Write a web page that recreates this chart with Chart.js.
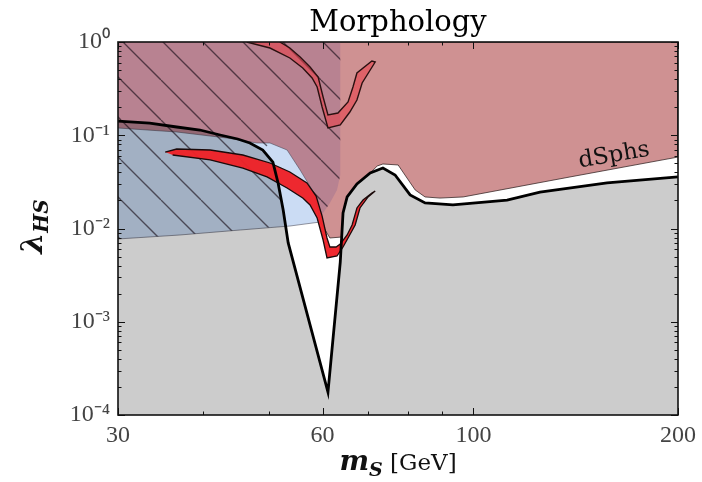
<!DOCTYPE html>
<html>
<head>
<meta charset="utf-8">
<title>Morphology</title>
<script src="https://cdn.jsdelivr.net/npm/chart.js@4.4.0/dist/chart.umd.min.js"></script>
<style>
  html, body { margin: 0; padding: 0; background: #fff; }
  canvas { display: block; }
</style>
</head>
<body>
<canvas id="chart" width="702" height="482"></canvas>
<script>
// ticks
const xTickValues = [30, 60, 100, 200];
const xMinorValues = [40, 50, 70, 80, 90];
const yTickValues = [1e-4, 1e-3, 1e-2, 1e-1, 1];
const yTickLabels = ['10⁻⁴', '10⁻³', '10⁻²', '10⁻¹', '10⁰'];

// black boundary curve (m_S in GeV, lambda_HS)
const boundM = [30, 33.4, 36.6, 39.6, 42.4, 45.0, 46.9, 49.0, 50.7, 51.6, 52.5, 53.4, 61.1, 63.7, 64.3, 65.2, 67.4, 70.5, 73.6, 76.7, 80.7, 84.9, 93.3, 112.1, 125.3, 157.3, 200];
const boundL = [0.142, 0.135, 0.1226, 0.1138, 0.1006, 0.0912, 0.0826, 0.0695, 0.0516, 0.0308, 0.0158, 0.0070, 0.000176, 0.00437, 0.0147, 0.0218, 0.0300, 0.0394, 0.0445, 0.0375, 0.0229, 0.0188, 0.0179, 0.0202, 0.0246, 0.0308, 0.0357];

// dSphs excluded region (closed outline)
const dsphM = [30, 200, 200, 138.7, 96.6, 89.3, 84.9, 82.1, 79.3, 77.5, 73.6, 72.2, 70.5, 67.4, 65.2, 64.3, 64.1, 61.5, 59.9, 59.5, 59.1, 58.5, 55.6, 53.2, 50.2, 48.0, 43.4, 36.6, 30];
const dsphL = [1, 1, 0.0584, 0.0357, 0.0218, 0.0212, 0.0218, 0.0259, 0.0375, 0.0480, 0.0492, 0.0468, 0.0394, 0.0300, 0.0218, 0.0147, 0.00811, 0.00791, 0.0109, 0.01174, 0.0147, 0.0229, 0.0424, 0.0695, 0.0826, 0.0826, 0.0934, 0.1084, 0.1196];
const dsphLabelAt = [161.6, 0.0523];

// hatched region below m_h/2 (tinted part and line pattern part)
const shadeM = [30, 63.7, 63.7, 63.0, 61.5, 60.1, 59.5, 55.6, 30];
const shadeL = [1, 1, 0.0375, 0.0259, 0.0188, 0.0147, 0.01174, 0.0140, 0.0140];
const hatchM = [30, 63.7, 63.7, 63.0, 61.5, 60.1, 59.5, 59.1, 58.5, 55.6, 53.2, 50.2, 49.0, 50.7, 51.6, 52.5, 52.9, 45.4, 37.0, 30];
const hatchL = [1, 1, 0.0375, 0.0259, 0.0188, 0.0147, 0.01174, 0.0147, 0.0229, 0.0424, 0.0695, 0.0826, 0.0695, 0.0516, 0.0308, 0.0158, 0.01063, 0.00964, 0.00852, 0.00772];

// blue region
const blueM = [30, 36.6, 43.4, 48.0, 50.2, 53.2, 55.6, 58.5, 59.1, 59.5, 53.7, 45.4, 37.0, 30];
const blueL = [0.1196, 0.1084, 0.0934, 0.0826, 0.0826, 0.0695, 0.0424, 0.0229, 0.0147, 0.01174, 0.01063, 0.00964, 0.00852, 0.00772];

// red contours
const redUpM = [46.4, 50.2, 53.7, 56.1, 57.9, 58.9, 59.9, 61.1, 63.7, 65.8, 67.4, 68.6, 70.5, 71.7, 70.9, 67.4, 66.5, 65.4, 63.2, 61.1, 60.1, 59.1, 57.5, 55.6, 53.7, 51.9];
const redUpL = [1, 0.862, 0.6737, 0.5262, 0.4111, 0.3292, 0.2009, 0.1196, 0.1288, 0.1776, 0.2388, 0.3634, 0.5009, 0.6102, 0.6254, 0.4652, 0.3292, 0.2273, 0.1732, 0.1649, 0.2571, 0.4213, 0.5394, 0.6905, 0.862, 1];
const redLowM = [35.2, 36.6, 41.0, 45.8, 50.2, 53.7, 56.9, 58.7, 59.9, 60.9, 61.5, 62.8, 63.7, 65.2, 66.3, 67.4, 68.8, 70.9, 71.7, 70.0, 68.1, 67.0, 65.4, 64.3, 63.0, 60.9, 60.1, 58.9, 57.5, 56.1, 53.2, 49.7, 45.8, 41.0, 36.1];
const redLowL = [0.0661, 0.0712, 0.0695, 0.0614, 0.0504, 0.0404, 0.0308, 0.0223, 0.0136, 0.00791, 0.00633, 0.00633, 0.00682, 0.00852, 0.0109, 0.0166, 0.0202, 0.0240, 0.0252, 0.0218, 0.0166, 0.0109, 0.00791, 0.00633, 0.00507, 0.00483, 0.00753, 0.01296, 0.0179, 0.0212, 0.0272, 0.0357, 0.0445, 0.0543, 0.0614];

const SERIF = "'DejaVu Serif', serif";
const TICKFONT = "'Liberation Serif', serif";

const pts = (xs, ys) => xs.map((x, i) => ({x: x, y: ys[i]}));

// diagonal hatch, anchored to the canvas origin so both hatch layers line up
function hatchPattern() {
  const c = document.createElement('canvas');
  c.width = 40; c.height = 40;
  const g = c.getContext('2d');
  g.strokeStyle = 'rgba(20,10,20,0.62)';
  g.lineWidth = 1.3;
  for (const k of [-40, 0, 40]) {
    g.beginPath();
    g.moveTo(1 + k, 0);
    g.lineTo(41 + k, 40);
    g.stroke();
  }
  return g.createPattern(c, 'repeat');
}

function region(data, fill, border, width, order) {
  return {
    data: data, showLine: true, fill: 'shape', backgroundColor: fill,
    borderColor: border, borderWidth: width, pointRadius: 0, tension: 0,
    order: order, clip: 0
  };
}

function drawRuns(ctx, runs, cx, base) {
  let w = 0;
  for (const r of runs) { ctx.font = r[1]; w += ctx.measureText(r[0]).width; }
  let x = cx - w / 2;
  ctx.textAlign = 'left';
  ctx.textBaseline = 'alphabetic';
  for (const r of runs) {
    ctx.font = r[1];
    ctx.fillText(r[0], x, base + r[2]);
    x += ctx.measureText(r[0]).width;
  }
}

const decorations = {
  id: 'decorations',
  afterDatasetsDraw(chart) {
    const {ctx, chartArea: a, scales: {x, y}} = chart;

    // dSphs label
    ctx.save();
    ctx.translate(x.getPixelForValue(dsphLabelAt[0]), y.getPixelForValue(dsphLabelAt[1]));
    ctx.rotate(-9.7 * Math.PI / 180);
    ctx.font = '23px ' + SERIF;
    ctx.fillStyle = '#111';
    ctx.textAlign = 'center';
    ctx.fillText('dSphs', 0, 0);
    ctx.restore();

    // inward ticks on all four sides
    ctx.save();
    ctx.strokeStyle = '#111';
    ctx.lineWidth = 1;
    ctx.beginPath();
    for (const t of x.ticks) {
      const px = Math.round(x.getPixelForValue(t.value)) + 0.5;
      const len = t.major ? 7 : 3.5;
      ctx.moveTo(px, a.bottom); ctx.lineTo(px, a.bottom - len);
      ctx.moveTo(px, a.top); ctx.lineTo(px, a.top + len);
    }
    for (const t of y.ticks) {
      const py = Math.round(y.getPixelForValue(t.value)) + 0.5;
      const len = t.major ? 7 : 3.5;
      ctx.moveTo(a.left, py); ctx.lineTo(a.left + len, py);
      ctx.moveTo(a.right, py); ctx.lineTo(a.right - len, py);
    }
    ctx.stroke();
    ctx.lineWidth = 1.6;
    ctx.strokeRect(a.left, a.top, a.right - a.left, a.bottom - a.top);

    // axis titles
    ctx.fillStyle = '#111';
    drawRuns(ctx, [
      ['m', 'italic bold 28px ' + SERIF, 0],
      ['S', 'italic bold 19px ' + SERIF, 6],
      [' [GeV]', '23px ' + SERIF, 0]
    ], (a.left + a.right) / 2, a.bottom + 55);

    ctx.translate(a.left - 76, (a.top + a.bottom) / 2 - 2);
    ctx.rotate(-Math.PI / 2);
    drawRuns(ctx, [
      ['λ', 'italic bold 30px ' + SERIF, 0],
      ['HS', 'italic bold 20px ' + SERIF, 6]
    ], 0, 0);
    ctx.restore();
  }
};

new Chart(document.getElementById('chart'), {
  type: 'scatter',
  data: {
    datasets: [
      // boundary line on top
      {data: pts(boundM, boundL), showLine: true, fill: false, borderColor: '#000', borderWidth: 2.8, pointRadius: 0, tension: 0, order: 0, clip: 0},
      region(pts(redLowM, redLowL), 'rgba(238,34,40,0.97)', '#1a0a0a', 1.3, 1),
      region(pts(redUpM, redUpL), 'rgba(235,60,70,0.55)', '#2a1010', 1.4, 2),
      region(pts(hatchM, hatchL), hatchPattern(), 'transparent', 0, 3),
      // grey area below the boundary
      {data: pts(boundM, boundL), showLine: true, fill: 'start', backgroundColor: 'rgba(0,0,0,0.2)', borderColor: 'transparent', borderWidth: 0, pointRadius: 0, tension: 0, order: 4, clip: 0},
      region(pts(blueM, blueL), '#cbdcf4', 'rgba(70,70,85,0.7)', 0.8, 5),
      region(pts(shadeM, shadeL), '#b88291', 'transparent', 0, 6),
      region(pts(dsphM, dsphL), '#cf9192', 'rgba(50,35,35,0.85)', 0.9, 7)
    ]
  },
  options: {
    responsive: false,
    animation: false,
    devicePixelRatio: 1,
    events: [],
    layout: {padding: {left: 0, right: 24, top: 0, bottom: 0}},
    plugins: {
      legend: {display: false},
      tooltip: {enabled: false},
      title: {
        display: true, text: 'Morphology', fullSize: false, color: '#000',
        font: {family: SERIF, size: 29, weight: 'normal', lineHeight: '36px'},
        padding: {top: 5, bottom: 1}
      }
    },
    scales: {
      x: {
        type: 'logarithmic', min: 30, max: 200,
        grid: {display: false, drawTicks: false},
        border: {display: false},
        afterBuildTicks: s => {
          s.ticks = xTickValues.concat(xMinorValues).sort((p, q) => p - q)
            .map(v => ({value: v, major: xTickValues.includes(v)}));
        },
        afterFit: s => { s.height = 67; },
        ticks: {
          autoSkip: false, maxRotation: 0, padding: 6, color: '#444',
          font: {family: TICKFONT, size: 24},
          callback: v => xTickValues.includes(v) ? String(v) : ''
        }
      },
      y: {
        type: 'logarithmic', min: 1e-4, max: 1,
        grid: {display: false, drawTicks: false},
        border: {display: false},
        afterBuildTicks: s => {
          const t = [];
          for (let e = -4; e < 0; e++) {
            for (let k = 1; k < 10; k++) t.push({value: k * Math.pow(10, e), major: k === 1});
          }
          t.push({value: 1, major: true});
          s.ticks = t;
        },
        afterFit: s => { s.width = 118; },
        ticks: {
          autoSkip: false, padding: 8, color: '#444',
          font: {family: TICKFONT, size: 24},
          callback: v => {
            const i = yTickValues.findIndex(t => Math.abs(t - v) / t < 1e-6);
            return i < 0 ? '' : yTickLabels[i];
          }
        }
      }
    }
  },
  plugins: [decorations]
});
</script>
</body>
</html>
